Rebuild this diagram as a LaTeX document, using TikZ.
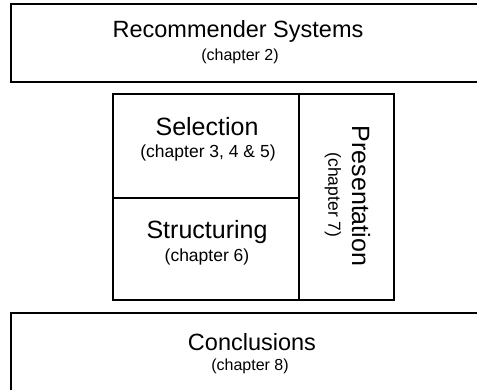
\documentclass[tikz,border=0pt]{standalone}
\usepackage{fontspec}
\setmainfont{Liberation Sans}
\usepackage{tikz}
\usetikzlibrary{positioning}

\begin{document}
\begin{tikzpicture}[x=1pt, y=-1pt, style={line cap=round},
  box/.style={draw, line width=1.2pt, inner sep=0pt},
  heading/.style={font=\fontsize{23.5}{28}\selectfont, inner sep=0pt},
  chap/.style={font=\fontsize{16}{19}\selectfont, inner sep=0pt},
  midheading/.style={font=\fontsize{25}{30}\selectfont, inner sep=0pt},
  midchap/.style={font=\fontsize{17.5}{21}\selectfont, inner sep=0pt}]
  \useasboundingbox (0,0) rectangle (477,390);
  % frames (the wide ones run off the page)
  \node[box, minimum width=485pt, minimum height=78pt] (recbox) at (253.5,43) {};
  \node[box, minimum width=186pt, minimum height=104pt] (selbox) at (206,146) {};
  \node[box, minimum width=186pt, minimum height=102pt] (strucbox) at (206,249) {};
  \node[box, minimum width=95pt, minimum height=206pt] (presbox) at (346.5,197) {};
  \node[box, minimum width=485pt, minimum height=87pt] (conclbox) at (253.5,356.5) {};
  % titles
  \node[heading] (rec) at (238,31) {Recommender Systems};
  \node[chap] (recch) at (240,56) {(chapter 2)};
  \node[midheading] (sel) at (207,127) {Selection};
  \node[midchap] (selch) at (208,153) {(chapter 3, 4 \& 5)};
  \node[midheading] (struc) at (207,232) {Structuring};
  \node[midchap] (strucch) at (207,257) {(chapter 6)};
  \node[midheading, rotate=-90] (pres) at (361,196) {Presentation};
  \node[midchap, rotate=-90] (presch) at (333,195) {(chapter 7)};
  \node[heading] (concl) at (252,342) {Conclusions};
  \node[chap] (conclch) at (250,366) {(chapter 8)};
\end{tikzpicture}
\end{document}
